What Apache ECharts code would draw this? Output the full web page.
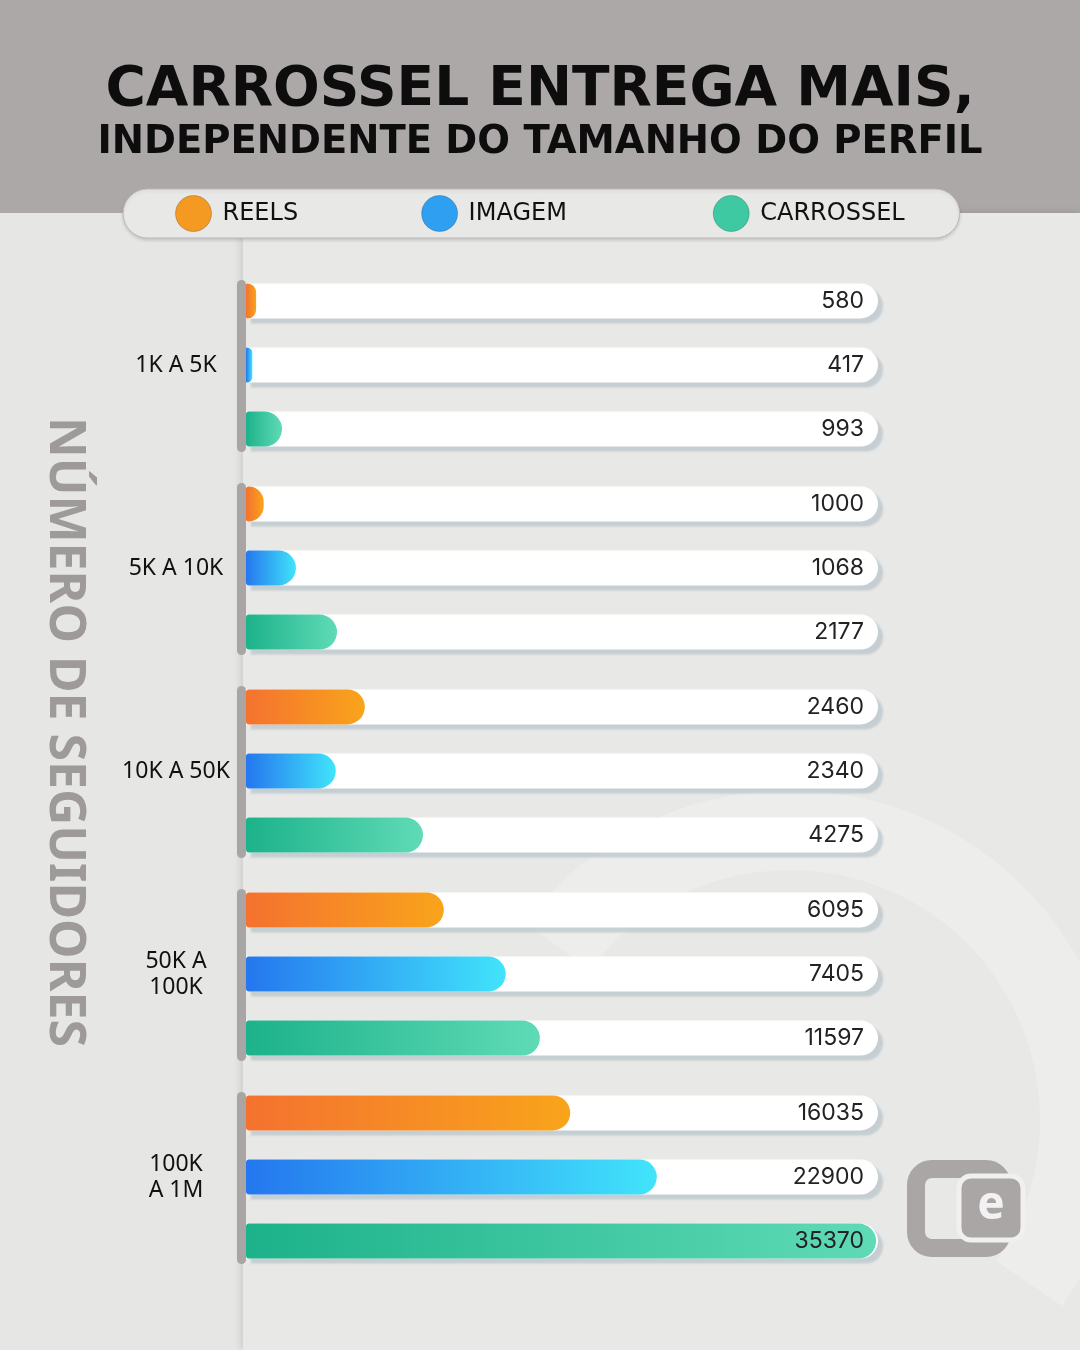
<!DOCTYPE html>
<html>
<head>
<meta charset="utf-8">
<script src="https://cdn.jsdelivr.net/npm/echarts@6/dist/echarts.min.js"></script>
<style>
html, body { margin: 0; padding: 0; background: #e6e6e4; }
#chart { width: 1080px; height: 1350px; }
</style>
</head>
<body>
<div id="chart"></div>
<script>
const faixas = ['1K A 5K', '5K A 10K', '10K A 50K', '50K A\n100K', '100K\nA 1M']
const seriesNames = ['REELS', 'IMAGEM', 'CARROSSEL']

// números escritos em cada barra
const reels = [580, 1000, 2460, 6095, 16035]
const imagem = [417, 1068, 2340, 7405, 22900]
const carrossel = [993, 2177, 4275, 11597, 35370]

// comprimento desenhado de cada barra, em % da trilha branca
// (na arte original as barras não seguem a escala dos números)
const reelsLen = [1.6, 2.8, 18.8, 31.3, 51.3]
const imagemLen = [1.0, 7.9, 14.2, 41.1, 65.0]
const carrosselLen = [5.7, 14.4, 28.0, 46.5, 99.7]

const chart = echarts.init(document.getElementById('chart'))

const barColors = [
  ['#f4722f', '#f9a41b'],
  ['#2477ee', '#41e4fb'],
  ['#1cb28a', '#5fdbb6']
]
const legendColors = ['#f49a22', '#2f9ff2', '#3ec9a2']
const lens = [reelsLen, imagemLen, carrosselLen]
const vals = [reels, imagem, carrossel]

function grad(c1, c2) {
  return new echarts.graphic.LinearGradient(0, 0, 1, 0, [
    { offset: 0, color: c1 },
    { offset: 1, color: c2 }
  ])
}

const series = []
lens.forEach((len, i) => {
  series.push({
    name: seriesNames[i],
    type: 'bar',
    stack: 's' + i,
    data: len,
    barWidth: 35,
    barGap: '83%',
    itemStyle: { color: grad(barColors[i][0], barColors[i][1]), borderRadius: [3, 18, 18, 3] },
    showBackground: true,
    backgroundStyle: {
      color: '#ffffff',
      borderRadius: [0, 18, 18, 0],
      shadowColor: 'rgba(185,198,203,0.75)',
      shadowOffsetX: 5,
      shadowOffsetY: 5,
      shadowBlur: 2
    },
    silent: true
  })
  // parte vazia da trilha, só para segurar o número à direita
  series.push({
    name: 'rotulo' + i,
    type: 'bar',
    stack: 's' + i,
    data: len.map(v => 100 - v),
    barWidth: 35,
    barGap: '83%',
    itemStyle: { color: 'transparent' },
    label: {
      show: true,
      position: 'insideRight',
      distance: 14,
      formatter: p => vals[i][p.dataIndex],
      fontSize: 23,
      color: '#222',
      fontFamily: 'Inter'
    },
    silent: true
  })
})

// traço cinza que agrupa cada faixa
series.push({
  type: 'custom',
  data: faixas.map((f, i) => [0, i]),
  renderItem: function(params, api) {
    const p = api.coord([0, api.value(1)])
    const h = 172
    return {
      type: 'rect',
      shape: { x: p[0] - 9, y: p[1] - h / 2 + 1, width: 9, height: h, r: 4.5 },
      style: { fill: '#a8a5a4' }
    }
  },
  silent: true,
  z: 5
})

const option = {
  backgroundColor: '#e6e6e4',
  title: [
    {
      text: 'CARROSSEL ENTREGA MAIS,',
      left: 'center',
      top: 58,
      textStyle: { fontSize: 55, fontWeight: 'bold', color: '#0d0d0d', fontFamily: 'DejaVu Sans' }
    },
    {
      text: 'INDEPENDENTE DO TAMANHO DO PERFIL',
      left: 'center',
      top: 118,
      textStyle: { fontSize: 38.5, fontWeight: 'bold', color: '#0d0d0d', fontFamily: 'DejaVu Sans' }
    }
  ],
  legend: {
    data: seriesNames.map((n, i) => ({
      name: n,
      itemStyle: { color: legendColors[i], borderColor: 'rgba(0,0,0,0.2)', borderWidth: 1 }
    })),
    // a fonte original é mais larga em IMAGEM: espaço extra depois do texto
    formatter: name => (name === 'IMAGEM' ? name + '\u00a0\u00a0\u00a0' : name),
    left: 123,
    top: 189,
    icon: 'circle',
    itemWidth: 36,
    itemHeight: 36,
    itemGap: 123,
    padding: [6, 55, 6, 52],
    backgroundColor: '#e8e8e6',
    borderColor: '#bdbab9',
    borderWidth: 1,
    borderRadius: 25,
    shadowColor: 'rgba(0,0,0,0.12)',
    shadowOffsetY: 2,
    shadowBlur: 3,
    selectedMode: false,
    textStyle: { fontSize: 24, color: '#111', fontFamily: 'DejaVu Sans', padding: [2, 0, 0, 6] }
  },
  grid: { left: 246, right: 202, top: 263.5, bottom: 71.5 },
  xAxis: { type: 'value', min: 0, max: 100, show: false },
  yAxis: {
    type: 'category',
    data: faixas,
    inverse: true,
    axisLine: { show: false },
    axisTick: { show: false },
    axisLabel: {
      align: 'center',
      margin: 70,
      fontSize: 23,
      lineHeight: 26,
      color: '#111',
      fontFamily: 'Noto Sans'
    }
  },
  graphic: [
    { type: 'rect', shape: { x: 0, y: 0, width: 1080, height: 213 }, style: { fill: '#aba8a7' }, z: -10 },
    {
      type: 'rect',
      shape: { x: 243, y: 213, width: 837, height: 1137 },
      style: { fill: '#e8e8e6', shadowColor: 'rgba(0,0,0,0.12)', shadowBlur: 8, shadowOffsetX: -2 },
      z: -9
    },
    {
      type: 'arc',
      shape: { cx: 790, cy: 1120, r: 290, startAngle: -2.5, endAngle: 0.6 },
      style: { stroke: 'rgba(255,255,255,0.22)', lineWidth: 80, fill: null },
      z: -8
    },
    {
      type: 'text',
      x: 64,
      y: 732,
      rotation: -Math.PI / 2,
      style: {
        text: 'NÚMERO DE SEGUIDORES',
        fontSize: 50,
        fontWeight: 'bold',
        fontFamily: 'Noto Sans',
        fill: '#9d9a99',
        align: 'center',
        verticalAlign: 'middle'
      },
      z: 10
    },
    // logo no canto inferior direito
    {
      type: 'rect',
      shape: { x: 916, y: 1169, width: 86, height: 79, r: 16 },
      style: { fill: null, stroke: '#aaa6a5', lineWidth: 18 },
      z: 10
    },
    {
      type: 'rect',
      shape: { x: 959, y: 1176, width: 64, height: 64, r: 12 },
      style: { fill: '#aaa6a5', stroke: '#f0f0ef', lineWidth: 5 },
      z: 11
    },
    {
      type: 'text',
      x: 991,
      y: 1206,
      style: {
        text: 'e',
        fontSize: 46,
        fontWeight: 'bold',
        fontFamily: 'Noto Sans',
        fill: '#f2f2f2',
        align: 'center',
        verticalAlign: 'middle'
      },
      z: 12
    }
  ],
  series: series
}

chart.setOption(option)
</script>
</body>
</html>
